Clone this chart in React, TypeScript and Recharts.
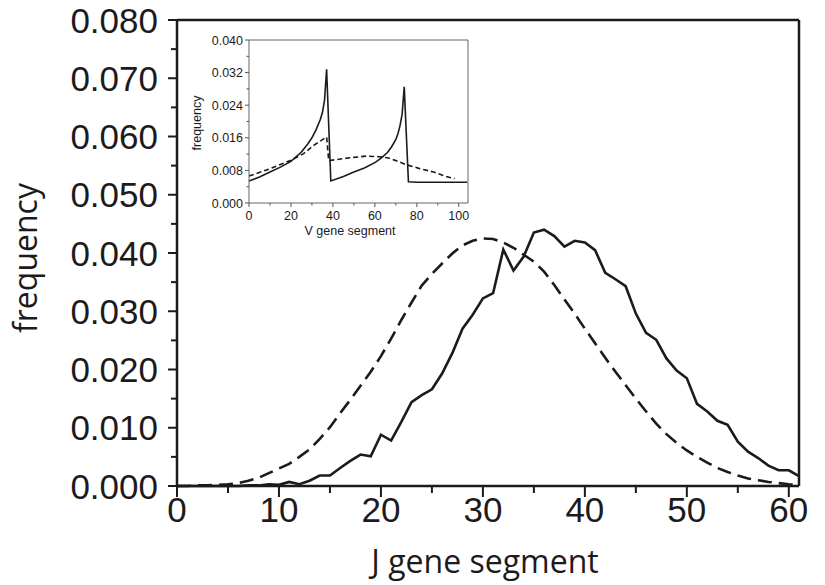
import React from 'react';
import { LineChart, Line, XAxis, YAxis, ReferenceLine, Label } from 'recharts';

// J gene segment usage (main panel)
const jSegments = [
  0, 1, 2, 3, 4, 5, 6, 7, 8, 9, 10, 11, 12, 13, 14, 15, 16, 17, 18, 19, 20,
  21, 22, 23, 24, 25, 26, 27, 28, 29, 30, 31, 32, 33, 34, 35, 36, 37, 38, 39, 40,
  41, 42, 43, 44, 45, 46, 47, 48, 49, 50, 51, 52, 53, 54, 55, 56, 57, 58, 59, 60, 61,
];
const jObserved = [
  0, 0, 0, 0, 0, 0, 0, 0.0001, 0.0001, 0.0003, 0.0002, 0.0007, 0.0003, 0.0009, 0.0018,
  0.0018, 0.0031, 0.0043, 0.0054, 0.0051, 0.0088, 0.0078, 0.011, 0.0144, 0.0156, 0.0166,
  0.0193, 0.0228, 0.027, 0.0294, 0.0322, 0.0331, 0.0406, 0.037, 0.0394, 0.0435, 0.044,
  0.0429, 0.0411, 0.0421, 0.0418, 0.0405, 0.0366, 0.0355, 0.0343, 0.0296, 0.0263, 0.0251,
  0.0219, 0.0198, 0.0185, 0.0141, 0.0128, 0.0112, 0.0105, 0.0076, 0.0059, 0.0048, 0.0035,
  0.0027, 0.0027, 0.0017,
];
const jModel = [
  0, 0, 0.0001, 0.0001, 0.0002, 0.0003, 0.0005, 0.0009, 0.0014, 0.0022, 0.003, 0.0038,
  0.005, 0.0063, 0.0081, 0.0101, 0.0125, 0.0148, 0.0172, 0.0196, 0.0223, 0.0253, 0.0285,
  0.0315, 0.0344, 0.0364, 0.0382, 0.0399, 0.0413, 0.0421, 0.0425, 0.0424, 0.0418, 0.0409,
  0.0397, 0.0385, 0.0368, 0.0345, 0.032, 0.0296, 0.027, 0.0245, 0.022, 0.0196, 0.0173,
  0.015, 0.0128, 0.0107, 0.0089, 0.0074, 0.0061, 0.005, 0.004, 0.0031, 0.0024, 0.0018,
  0.0013, 0.001, 0.0007, 0.0005, 0.0003, 0.0002,
];
const jTicks = [0, 5, 10, 15, 20, 25, 30, 35, 40, 45, 50, 55, 60];
const freqTicks = [
  0, 0.005, 0.01, 0.015, 0.02, 0.025, 0.03, 0.035, 0.04, 0.045, 0.05, 0.055, 0.06, 0.065,
  0.07, 0.075, 0.08,
];

// V gene segment usage (inset)
const vObservedX = [0, 5, 10, 15, 20, 25, 28, 30, 32, 34, 35, 36, 37, 39, 45, 50, 55, 60, 63, 66, 68, 70, 71, 72, 73, 74, 76, 80, 90, 104];
const vObserved = [
  0.0054, 0.0064, 0.0076, 0.0088, 0.0102, 0.0125, 0.0145, 0.016, 0.018, 0.0205, 0.0222,
  0.0252, 0.0328, 0.0054, 0.0065, 0.0076, 0.0086, 0.0099, 0.011, 0.0124, 0.0138, 0.0156,
  0.017, 0.019, 0.0218, 0.0285, 0.0052, 0.0051, 0.0051, 0.0051,
];
const vModelX = [0, 10, 20, 26, 31, 37, 38, 45, 50, 56, 61, 66, 70, 75, 81, 88, 94, 98];
const vModel = [
  0.0066, 0.0084, 0.0105, 0.0121, 0.0142, 0.0162, 0.0104, 0.0109, 0.0112, 0.0115, 0.0114,
  0.0111, 0.0104, 0.0094, 0.0085, 0.0076, 0.0065, 0.006,
];
const vTicks = [0, 10, 20, 30, 40, 50, 60, 70, 80, 90, 100];
const insetFreqTicks = [0, 0.004, 0.008, 0.012, 0.016, 0.02, 0.024, 0.028, 0.032, 0.036, 0.04];

const mainData = jSegments.map((j, i) => ({ j, observed: jObserved[i], model: jModel[i] }));
const insetSolid = vObservedX.map((v, i) => ({ v, f: vObserved[i] }));
const insetDashed = vModelX.map((v, i) => ({ v, f: vModel[i] }));

const INK = '#1d1a1b';
const TICK_FONT = '"Liberation Sans", Arial, Helvetica, sans-serif';
const TITLE_FONT = '"Open Sans", "Liberation Sans", sans-serif';

const MainXTick = (props: any) => {
  const { x, y, payload } = props;
  const major = payload.value % 10 === 0;
  return (
    <g>
      <line x1={x} y1={y} x2={x} y2={y + (major ? 11 : 7)} stroke={INK} strokeWidth={2} />
      {major && (
        <text x={x} y={y + 36} textAnchor="middle" fontSize={35} fontFamily={TICK_FONT} fill={INK}>
          {payload.value}
        </text>
      )}
    </g>
  );
};

const MainYTick = (props: any) => {
  const { x, y, payload } = props;
  const major = Math.round(payload.value * 1000) % 10 === 0;
  return (
    <g>
      <line x1={x - (major ? 9 : 6)} y1={y} x2={x} y2={y} stroke={INK} strokeWidth={2} />
      {major && (
        <text x={x - 19} y={y} dy="0.36em" textAnchor="end" fontSize={35} fontFamily={TICK_FONT} fill={INK}>
          {payload.value.toFixed(3)}
        </text>
      )}
    </g>
  );
};

const InsetXTick = (props: any) => {
  const { x, y, payload } = props;
  const major = payload.value % 20 === 0;
  return (
    <g>
      <line x1={x} y1={y} x2={x} y2={y + (major ? 4 : 2.5)} stroke="#555" strokeWidth={1} />
      {major && (
        <text x={x} y={y + 17} textAnchor="middle" fontSize={12.5} fontFamily={TICK_FONT} fill={INK}>
          {payload.value}
        </text>
      )}
    </g>
  );
};

const InsetYTick = (props: any) => {
  const { x, y, payload } = props;
  const major = Math.round(payload.value * 1000) % 8 === 0;
  return (
    <g>
      <line x1={x - (major ? 4 : 2.5)} y1={y} x2={x} y2={y} stroke="#555" strokeWidth={1} />
      {major && (
        <text x={x - 6} y={y} dy="0.36em" textAnchor="end" fontSize={12.5} fontFamily={TICK_FONT} fill={INK}>
          {payload.value.toFixed(3)}
        </text>
      )}
    </g>
  );
};

export default function App() {
  return (
    <div style={{ position: 'absolute', left: 0, top: 0, width: 825, height: 585, background: '#fff' }}>
      <LineChart width={825} height={585} data={mainData} margin={{ top: 20, right: 26, left: 0, bottom: 0 }}>
        <XAxis
          dataKey="j"
          type="number"
          domain={[0, 61]}
          ticks={jTicks}
          interval={0}
          height={99}
          tickLine={false}
          tickSize={0}
          tickMargin={0}
          tick={<MainXTick />}
          axisLine={{ stroke: INK, strokeWidth: 2.5 }}
        >
          <Label
            content={() => (
              <text x={485} y={573} textAnchor="middle" fontSize={32} fontFamily={TITLE_FONT} fill={INK}>
                J gene segment
              </text>
            )}
          />
        </XAxis>
        <YAxis
          type="number"
          domain={[0, 0.08]}
          ticks={freqTicks}
          interval={0}
          width={177}
          tickLine={false}
          tickSize={0}
          tickMargin={0}
          tick={<MainYTick />}
          axisLine={{ stroke: INK, strokeWidth: 2.5 }}
        >
          <Label
            content={() => (
              <text
                x={37}
                y={258}
                transform="rotate(-90 37 258)"
                textAnchor="middle"
                fontSize={32}
                fontFamily={TITLE_FONT}
                fill={INK}
              >
                frequency
              </text>
            )}
          />
        </YAxis>
        <ReferenceLine y={0.08} stroke={INK} strokeWidth={2.5} />
        <ReferenceLine x={61} stroke={INK} strokeWidth={2.5} />
        <Line
          type="linear"
          dataKey="model"
          stroke={INK}
          strokeWidth={2.6}
          strokeDasharray="14 7"
          dot={false}
          isAnimationActive={false}
        />
        <Line
          type="linear"
          dataKey="observed"
          stroke={INK}
          strokeWidth={2.6}
          dot={false}
          isAnimationActive={false}
        />
      </LineChart>

      <div style={{ position: 'absolute', left: 180, top: 30 }}>
        <LineChart width={300} height={212} margin={{ top: 10, right: 12, left: 0, bottom: 0 }}>
          <XAxis
            dataKey="v"
            type="number"
            domain={[0, 104.4]}
            ticks={vTicks}
            interval={0}
            height={39}
            tickLine={false}
            tickSize={0}
            tickMargin={0}
            tick={<InsetXTick />}
            axisLine={{ stroke: '#666', strokeWidth: 1 }}
          >
            <Label
              content={() => (
                <text x={170} y={205} textAnchor="middle" fontSize={12.5} fontFamily={TICK_FONT} fill={INK}>
                  V gene segment
                </text>
              )}
            />
          </XAxis>
          <YAxis
            type="number"
            domain={[0, 0.04]}
            ticks={insetFreqTicks}
            interval={0}
            width={69}
            tickLine={false}
            tickSize={0}
            tickMargin={0}
            tick={<InsetYTick />}
            axisLine={{ stroke: '#666', strokeWidth: 1 }}
          >
            <Label
              content={() => (
                <text
                  x={21}
                  y={93}
                  transform="rotate(-90 21 93)"
                  textAnchor="middle"
                  fontSize={12.5}
                  fontFamily={TICK_FONT}
                  fill={INK}
                >
                  frequency
                </text>
              )}
            />
          </YAxis>
          <ReferenceLine y={0.04} stroke="#666" strokeWidth={1} />
          <ReferenceLine x={104.4} stroke="#666" strokeWidth={1} />
          <Line
            data={insetDashed}
            type="linear"
            dataKey="f"
            stroke={INK}
            strokeWidth={1.6}
            strokeDasharray="5 3"
            dot={false}
            isAnimationActive={false}
          />
          <Line
            data={insetSolid}
            type="linear"
            dataKey="f"
            stroke={INK}
            strokeWidth={1.6}
            dot={false}
            isAnimationActive={false}
          />
        </LineChart>
      </div>
    </div>
  );
}
